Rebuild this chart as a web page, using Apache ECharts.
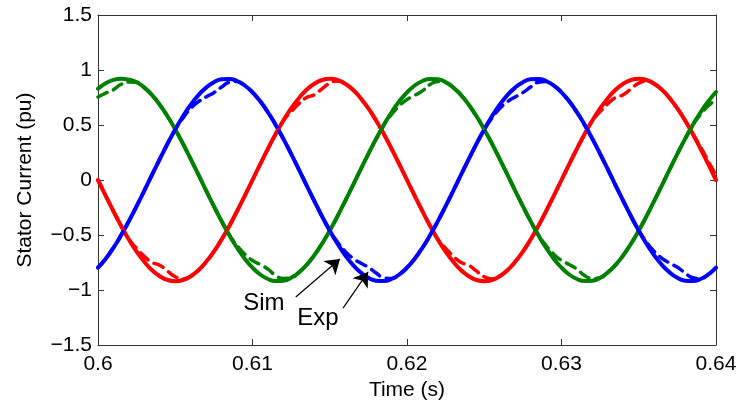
<!DOCTYPE html>
<html>
<head>
<meta charset="utf-8">
<script src="https://cdn.jsdelivr.net/npm/echarts@6/dist/echarts.min.js"></script>
<style>
  html, body { margin: 0; padding: 0; background: #fff; }
  #chart { width: 740px; height: 407px; }
</style>
</head>
<body>
<div id="chart"></div>
<script>
// time samples (s), every 0.5 ms
const time = [
  0.6, 0.6005, 0.601, 0.6015, 0.602, 0.6025, 0.603, 0.6035, 0.604, 0.6045,
  0.605, 0.6055, 0.606, 0.6065, 0.607, 0.6075, 0.608, 0.6085, 0.609, 0.6095,
  0.61, 0.6105, 0.611, 0.6115, 0.612, 0.6125, 0.613, 0.6135, 0.614, 0.6145,
  0.615, 0.6155, 0.616, 0.6165, 0.617, 0.6175, 0.618, 0.6185, 0.619, 0.6195,
  0.62, 0.6205, 0.621, 0.6215, 0.622, 0.6225, 0.623, 0.6235, 0.624, 0.6245,
  0.625, 0.6255, 0.626, 0.6265, 0.627, 0.6275, 0.628, 0.6285, 0.629, 0.6295,
  0.63, 0.6305, 0.631, 0.6315, 0.632, 0.6325, 0.633, 0.6335, 0.634, 0.6345,
  0.635, 0.6355, 0.636, 0.6365, 0.637, 0.6375, 0.638, 0.6385, 0.639, 0.6395,
  0.64
];

// phase currents (pu)
const redSim = [
  0, -0.144, -0.284, -0.418, -0.541, -0.651, -0.744, -0.82, -0.875, -0.909,
  -0.92, -0.909, -0.875, -0.82, -0.744, -0.651, -0.541, -0.418, -0.284, -0.144,
  0, 0.144, 0.284, 0.418, 0.541, 0.651, 0.744, 0.82, 0.875, 0.909,
  0.92, 0.909, 0.875, 0.82, 0.744, 0.651, 0.541, 0.418, 0.284, 0.144,
  0, -0.144, -0.284, -0.418, -0.541, -0.651, -0.744, -0.82, -0.875, -0.909,
  -0.92, -0.909, -0.875, -0.82, -0.744, -0.651, -0.541, -0.418, -0.284, -0.144,
  0, 0.144, 0.284, 0.418, 0.541, 0.651, 0.744, 0.82, 0.875, 0.909,
  0.92, 0.909, 0.875, 0.82, 0.744, 0.651, 0.541, 0.418, 0.284, 0.144,
  0
];
const redExp = [
  0, -0.144, -0.284, -0.418, -0.541, -0.621, -0.694, -0.75, -0.775, -0.829,
  -0.88, -0.899, -0.875, -0.82, -0.744, -0.651, -0.541, -0.418, -0.284, -0.144,
  0, 0.144, 0.284, 0.418, 0.541, 0.621, 0.694, 0.75, 0.775, 0.829,
  0.88, 0.899, 0.875, 0.82, 0.744, 0.651, 0.541, 0.418, 0.284, 0.144,
  0, -0.144, -0.284, -0.418, -0.541, -0.621, -0.694, -0.75, -0.775, -0.829,
  -0.88, -0.899, -0.875, -0.82, -0.744, -0.651, -0.541, -0.418, -0.284, -0.144,
  0, 0.144, 0.284, 0.418, 0.541, 0.621, 0.694, 0.75, 0.775, 0.829,
  0.88, 0.899, 0.875, 0.82, 0.744, 0.651, 0.541, 0.418, 0.3, 0.17,
  0.04
];
const greenSim = [
  0.83, 0.88, 0.91, 0.92, 0.912, 0.889, 0.84, 0.772, 0.684, 0.579,
  0.46, 0.33, 0.191, 0.048, -0.096, -0.238, -0.374, -0.501, -0.616, -0.715,
  -0.797, -0.859, -0.9, -0.919, -0.915, -0.889, -0.84, -0.772, -0.684, -0.579,
  -0.46, -0.33, -0.191, -0.048, 0.096, 0.238, 0.374, 0.501, 0.616, 0.715,
  0.797, 0.859, 0.9, 0.919, 0.915, 0.889, 0.84, 0.772, 0.684, 0.579,
  0.46, 0.33, 0.191, 0.048, -0.096, -0.238, -0.374, -0.501, -0.616, -0.715,
  -0.797, -0.859, -0.9, -0.919, -0.915, -0.889, -0.84, -0.772, -0.684, -0.579,
  -0.46, -0.33, -0.191, -0.048, 0.096, 0.238, 0.374, 0.501, 0.616, 0.715,
  0.8
];
const greenExp = [
  0.755, 0.79, 0.82, 0.87, 0.89, 0.889, 0.84, 0.772, 0.684, 0.579,
  0.46, 0.33, 0.191, 0.048, -0.096, -0.238, -0.374, -0.501, -0.596, -0.675,
  -0.732, -0.769, -0.81, -0.869, -0.895, -0.889, -0.84, -0.772, -0.684, -0.579,
  -0.46, -0.33, -0.191, -0.048, 0.096, 0.238, 0.374, 0.501, 0.596, 0.675,
  0.732, 0.769, 0.81, 0.869, 0.895, 0.889, 0.84, 0.772, 0.684, 0.579,
  0.46, 0.33, 0.191, 0.048, -0.096, -0.238, -0.374, -0.501, -0.596, -0.675,
  -0.732, -0.769, -0.81, -0.869, -0.895, -0.889, -0.84, -0.772, -0.684, -0.579,
  -0.46, -0.33, -0.191, -0.048, 0.096, 0.238, 0.374, 0.501, 0.596, 0.675,
  0.73
];
const blueSim = [
  -0.797, -0.715, -0.616, -0.501, -0.374, -0.238, -0.096, 0.048, 0.191, 0.33,
  0.46, 0.579, 0.684, 0.772, 0.84, 0.889, 0.915, 0.919, 0.9, 0.859,
  0.797, 0.715, 0.616, 0.501, 0.374, 0.238, 0.096, -0.048, -0.191, -0.33,
  -0.46, -0.579, -0.684, -0.772, -0.84, -0.889, -0.915, -0.919, -0.9, -0.859,
  -0.797, -0.715, -0.616, -0.501, -0.374, -0.238, -0.096, 0.048, 0.191, 0.33,
  0.46, 0.579, 0.684, 0.772, 0.84, 0.889, 0.915, 0.919, 0.9, 0.859,
  0.797, 0.715, 0.616, 0.501, 0.374, 0.238, 0.096, -0.048, -0.191, -0.33,
  -0.46, -0.579, -0.684, -0.772, -0.84, -0.889, -0.915, -0.919, -0.9, -0.859,
  -0.797
];
const blueExp = [
  -0.797, -0.715, -0.616, -0.501, -0.374, -0.238, -0.096, 0.048, 0.191, 0.33,
  0.46, 0.564, 0.649, 0.712, 0.755, 0.794, 0.845, 0.889, 0.895, 0.859,
  0.797, 0.715, 0.616, 0.501, 0.374, 0.238, 0.096, -0.048, -0.191, -0.33,
  -0.46, -0.564, -0.649, -0.712, -0.755, -0.794, -0.845, -0.889, -0.895, -0.859,
  -0.797, -0.715, -0.616, -0.501, -0.374, -0.238, -0.096, 0.048, 0.191, 0.33,
  0.46, 0.564, 0.649, 0.712, 0.755, 0.794, 0.845, 0.889, 0.895, 0.859,
  0.797, 0.715, 0.616, 0.501, 0.374, 0.238, 0.096, -0.048, -0.191, -0.33,
  -0.46, -0.564, -0.649, -0.712, -0.755, -0.794, -0.845, -0.889, -0.895, -0.859,
  -0.797
];

// annotation arrows [tail, head] and label spots, in data units
const simArrow = [[0.6128, -1.064], [0.61566, -0.718]];
const expArrow = [[0.61586, -1.164], [0.61748, -0.836]];
const simLabel = [0.61074, -1.118];
const expLabel = [0.61424, -1.255];

const FONT = '"Liberation Sans", Arial, Helvetica, sans-serif';
const AXIS_COLOR = '#333';

const pairs = (vals) => time.map((t, i) => [t, vals[i]]);

const lineSeries = (name, vals, color, dashed) => ({
  name: name,
  type: 'line',
  data: pairs(vals),
  smooth: true,
  showSymbol: false,
  symbol: 'none',
  lineStyle: {
    color: color,
    width: dashed ? 3.5 : 4,
    type: dashed ? [10, 7] : 'solid',
    cap: 'round'
  },
  z: dashed ? 3 : 2
});

const minus = (v) => String(v).replace('-', '\u2212');

const chart = echarts.init(document.getElementById('chart'));

const blueSimSeries = lineSeries('blueSim', blueSim, '#0000ff', false);
blueSimSeries.markLine = {
  silent: true,
  symbol: ['none', 'arrow'],
  symbolSize: 14,
  label: { show: false },
  lineStyle: { color: '#000', width: 1.2, type: 'solid' },
  z: 5,
  data: [
    [{ coord: simArrow[0] }, { coord: simArrow[1] }],
    [{ coord: expArrow[0] }, { coord: expArrow[1] }]
  ]
};
blueSimSeries.markPoint = {
  silent: true,
  symbol: 'circle',
  symbolSize: 0,
  label: {
    show: true,
    position: 'inside',
    color: '#000',
    fontFamily: FONT,
    fontSize: 24,
    formatter: (p) => p.name
  },
  data: [
    { name: 'Sim', coord: simLabel },
    { name: 'Exp', coord: expLabel }
  ]
};

const sideAxis = {
  axisLine: { show: true, onZero: false, lineStyle: { color: AXIS_COLOR, width: 1 } },
  axisTick: { show: true, inside: true, length: 6, lineStyle: { color: AXIS_COLOR } },
  splitLine: { show: false }
};

const option = {
  animation: false,
  backgroundColor: '#fff',
  grid: { left: 98, right: 24, top: 15, bottom: 62 },
  xAxis: [
    Object.assign({}, sideAxis, {
      type: 'value',
      min: 0.6,
      max: 0.64,
      interval: 0.01,
      name: 'Time (s)',
      nameLocation: 'middle',
      nameGap: 34,
      nameTextStyle: { color: '#000', fontFamily: FONT, fontSize: 21 },
      axisLabel: {
        color: '#000', fontFamily: FONT, fontSize: 21, margin: 9,
        formatter: (v) => String(+v.toFixed(2))
      }
    }),
    Object.assign({}, sideAxis, {
      type: 'value',
      position: 'top',
      min: 0.6,
      max: 0.64,
      interval: 0.01,
      axisLabel: { show: false }
    })
  ],
  yAxis: [
    Object.assign({}, sideAxis, {
      type: 'value',
      min: -1.5,
      max: 1.5,
      interval: 0.5,
      name: 'Stator Current (pu)',
      nameLocation: 'middle',
      nameGap: 62,
      nameTextStyle: { color: '#000', fontFamily: FONT, fontSize: 21 },
      axisLabel: {
        color: '#000', fontFamily: FONT, fontSize: 21, margin: 6,
        formatter: (v) => minus(+v.toFixed(1))
      }
    }),
    Object.assign({}, sideAxis, {
      type: 'value',
      position: 'right',
      min: -1.5,
      max: 1.5,
      interval: 0.5,
      axisLabel: { show: false }
    })
  ],
  series: [
    lineSeries('redSim', redSim, '#ff0000', false),
    lineSeries('greenSim', greenSim, '#008000', false),
    blueSimSeries,
    lineSeries('redExp', redExp, '#ff0000', true),
    lineSeries('greenExp', greenExp, '#008000', true),
    lineSeries('blueExp', blueExp, '#0000ff', true)
  ]
};

chart.setOption(option);
</script>
</body>
</html>
